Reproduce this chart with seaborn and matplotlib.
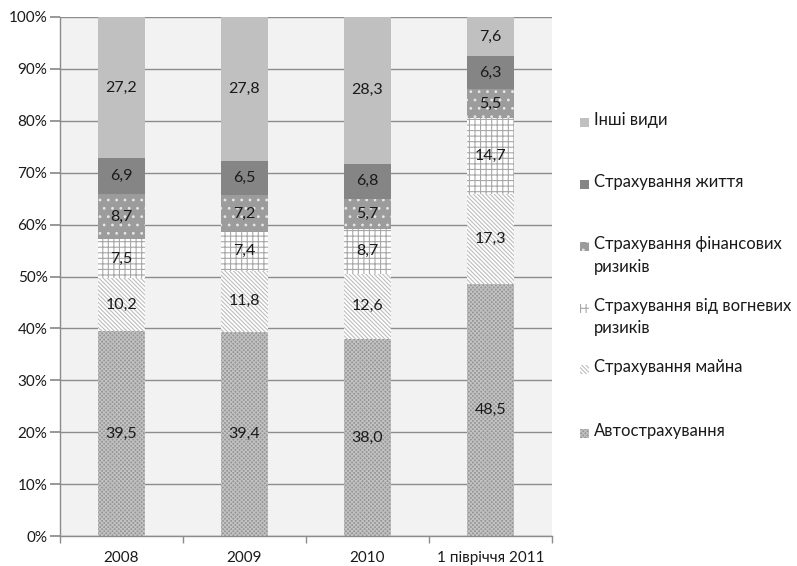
import matplotlib
matplotlib.use("Agg")
import matplotlib.pyplot as plt
from matplotlib.patches import Rectangle
import numpy as np
import pandas as pd
import seaborn as sns

# Structure of insurance premiums by type, %
periods = ["2008", "2009", "2010", "1 півріччя 2011"]
auto = [39.5, 39.4, 38.0, 48.5]
property_ins = [10.2, 11.8, 12.6, 17.3]
fire = [7.5, 7.4, 8.7, 14.7]
financial = [8.7, 7.2, 5.7, 5.5]
life = [6.9, 6.5, 6.8, 6.3]
other = [27.2, 27.8, 28.3, 7.6]

series_names = ["Автострахування", "Страхування майна",
                "Страхування від вогневих\nризиків",
                "Страхування фінансових\nризиків",
                "Страхування життя", "Інші види"]
series_values = [auto, property_ins, fire, financial, life, other]

# fill, hatch pattern, hatch colour for each series (bottom to top)
styles = [
    ("#959595", "xxxxxxxx", "#c2c2c2"),
    ("#ffffff", "\\\\\\\\\\\\\\\\", "#bdbdbd"),
    ("#ffffff", "+++", "#a8a8a8"),
    ("#9c9c9c", "..", "#e6e6e6"),
    ("#858585", "", "#858585"),
    ("#c0c0c0", "", "#c0c0c0"),
]

sns.set_theme(style="white")
plt.rcParams["font.family"] = ["Lato", "DejaVu Sans"]
plt.rcParams["hatch.linewidth"] = 0.8

vals = np.array(series_values, dtype=float)
shares = vals / vals.sum(axis=0) * 100.0
cum = np.cumsum(shares, axis=0)

fig = plt.figure(figsize=(7.97, 5.66), dpi=100)
ax = fig.add_axes([60 / 797, 1 - 536 / 566, (552 - 60) / 797, (536 - 17) / 566])
ax.set_facecolor("#f2f2f2")

# draw cumulative totals from the top layer down so each lower layer covers the previous
for i in range(len(series_names) - 1, -1, -1):
    df = pd.DataFrame({"period": periods, "value": cum[i]})
    n_before = len(ax.patches)
    sns.barplot(data=df, x="period", y="value", ax=ax, width=0.39,
                color=styles[i][0], saturation=1, zorder=3)
    fc, hatch, hc = styles[i]
    for p in ax.patches[n_before:]:
        p.set_facecolor(fc)
        p.set_edgecolor(hc)
        p.set_linewidth(0)
        p.set_hatch(hatch)

# segment value labels
for i in range(len(series_names)):
    for j in range(len(periods)):
        y = cum[i, j] - shares[i, j] / 2
        ax.text(j, y, f"{vals[i, j]:.1f}".replace(".", ","), ha="center",
                va="center", fontsize=11.5, color="#1a1a1a", zorder=5)

ax.set_ylim(0, 100)
ax.set_xlim(-0.5, 3.5)
ax.set_yticks(np.arange(0, 101, 10))
ax.set_yticklabels([f"{t}%" for t in range(0, 101, 10)])
ax.yaxis.grid(True, color="#8c8c8c", linewidth=1.0, zorder=0)
ax.set_axisbelow(True)
ax.set_xlabel("")
ax.set_ylabel("")
for s in ["top", "right"]:
    ax.spines[s].set_visible(False)
for s in ["left", "bottom"]:
    ax.spines[s].set_color("#8c8c8c")
    ax.spines[s].set_linewidth(1.0)
ax.tick_params(axis="y", left=True, length=7, color="#8c8c8c", labelsize=11,
               labelcolor="#1a1a1a", pad=2)
ax.tick_params(axis="x", which="major", length=0, labelsize=11,
               labelcolor="#1a1a1a", pad=11)
ax.set_xticks([-0.5, 0.5, 1.5, 2.5, 3.5], minor=True)
ax.tick_params(axis="x", which="minor", bottom=True, length=5, color="#8c8c8c")

# legend on the right, top entry first
legend_rows = [
    (5, 122), (4, 184), (3, 246), (2, 308), (1, 369), (0, 433),
]
W, H = 797, 566
for idx, ytxt in legend_rows:
    fc, hatch, hc = styles[idx]
    r = Rectangle((580 / W, 1 - (ytxt + 5) / H), 9 / W, 9 / H,
                  transform=fig.transFigure, facecolor=fc, edgecolor=hc,
                  linewidth=0, hatch=hatch)
    fig.patches.append(r)
    fig.text(594 / W, 1 - (ytxt - 10) / H, series_names[idx], ha="left",
             va="top", fontsize=12, color="#1a1a1a", linespacing=1.5,
             transform=fig.transFigure)

fig.savefig("out.png", dpi=100, facecolor="white")
